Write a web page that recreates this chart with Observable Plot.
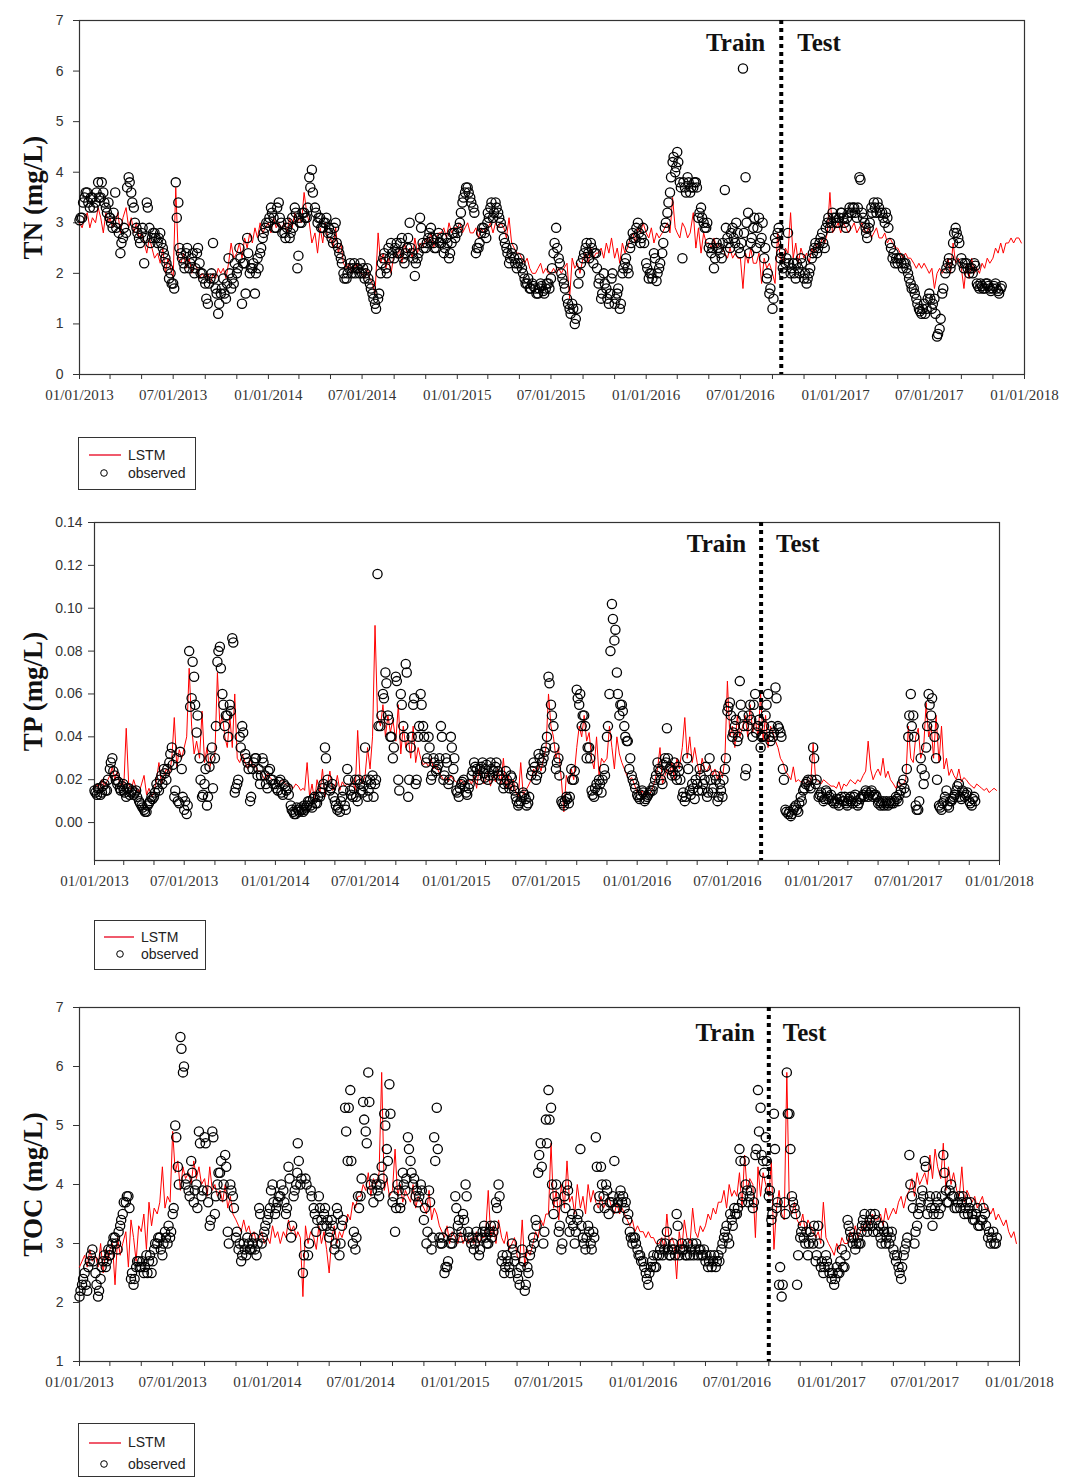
<!DOCTYPE html>
<html><head><meta charset="utf-8">
<script src="https://cdn.jsdelivr.net/npm/d3@7"></script>
<script src="https://cdn.jsdelivr.net/npm/@observablehq/plot@0.6"></script>
<style>
body{margin:0;background:#fff;}
#root{position:relative;width:1075px;height:1484px;background:#fff;overflow:hidden;}
.pane{position:absolute;left:0;}
[aria-label^="y-axis"] text{font-family:"Liberation Sans",Arial,sans-serif;font-size:14px;}
.legend{position:absolute;border:1px solid #333;background:#fff;box-sizing:border-box;}
.legend text{font-family:"Liberation Sans",Arial,sans-serif;font-size:14px;fill:#222;}
</style></head>
<body><div id="root"></div>
<script>
// sampling grid: readings on days 1,6,11,16,21,26 (series A) and 3,8,13,18,23,28 (observed series B), Jan 2013 - Dec 2017
const years = [2013, 2014, 2015, 2016, 2017];
const gridDays = [1, 6, 11, 16, 21, 26];
const gridDaysB = [3, 8, 13, 18, 23, 28];
const splitDates = ["2016-09-18", "2016-09-07", "2016-09-01"];
const yLabels = ["TN (mg/L)", "TP (mg/L)", "TOC (mg/L)"];
const tnTicks = [0, 1, 2, 3, 4, 5, 6, 7];
const tpTicks = [0, 0.02, 0.04, 0.06, 0.08, 0.10, 0.12, 0.14];
const tocTicks = [1, 2, 3, 4, 5, 6, 7];

const tnLSTM = [
3.0,2.9,3.1,3.2,2.9,3.1, 3.0,3.3,3.1,2.8,3.2,3.0, 3.1,2.9,3.0,3.2,2.8,3.1,
3.3,2.9,3.1,2.8,3.0,2.7, 2.8,2.6,2.4,2.7,2.5,2.3, 2.4,2.2,2.5,2.0,2.3,2.1,
1.9,3.7,2.3,2.2,2.4,2.1, 2.3,2.0,2.2,2.1,1.9,2.0, 1.9,2.0,1.8,2.0,1.9,2.1,
2.0,2.1,1.9,2.2,2.6,2.3, 2.4,2.6,2.3,2.7,2.5,2.8, 2.6,2.9,2.7,3.0,2.8,2.9,
3.0,2.8,3.1,2.9,3.0,2.9, 3.0,2.8,3.1,2.9,3.2,3.0, 3.1,3.0,3.6,3.2,3.0,2.6,
2.8,2.4,2.9,2.6,3.0,2.7, 2.7,2.5,2.9,2.4,2.6,2.2, 2.1,2.2,2.0,2.1,2.2,2.0,
2.0,1.9,2.1,1.9,1.8,1.6, 2.8,2.2,2.4,2.1,2.3,2.0, 2.4,2.3,2.5,2.2,2.6,2.4,
2.5,2.3,2.7,2.4,2.6,2.5, 2.7,2.6,2.8,2.5,2.7,2.8, 2.8,2.9,2.7,3.0,2.8,2.9,
2.9,3.0,2.8,2.9,3.0,2.8, 2.8,2.9,2.7,2.9,2.8,2.9, 2.9,3.0,2.8,3.0,2.9,3.0,
2.9,2.7,3.1,2.6,2.5,2.4, 2.4,2.3,2.2,2.3,2.1,2.0, 2.0,2.1,2.2,2.0,2.1,2.0,
2.0,2.1,2.0,2.1,2.0,2.1, 2.2,1.5,2.3,2.1,2.2,2.0, 2.3,2.4,2.2,2.5,2.3,2.4,
2.4,2.5,2.3,2.6,2.4,2.7, 2.3,2.5,2.2,2.6,2.4,2.5, 2.7,2.8,2.6,2.9,2.8,3.0,
2.8,2.7,2.9,2.6,2.8,2.7, 2.8,2.9,3.0,2.8,3.5,2.9, 2.8,2.7,3.0,2.9,2.7,2.8,
3.2,2.5,2.9,2.4,2.8,2.6, 2.6,2.5,2.7,2.5,2.6,2.5, 2.4,2.3,2.5,2.3,2.4,2.3,
2.3,1.7,2.4,2.2,2.5,2.2, 2.2,2.4,1.8,2.3,2.1,2.2, 2.0,1.8,2.8,2.3,2.2,2.5,
2.4,3.2,2.3,2.6,2.2,2.5, 2.3,2.4,2.2,2.5,2.4,2.6, 2.5,2.7,2.6,2.8,3.6,2.8,
2.9,3.0,2.8,3.0,2.9,2.8, 2.9,3.0,2.8,2.9,3.0,2.8, 2.8,2.9,2.7,2.8,2.9,2.7,
2.7,2.8,2.6,2.7,2.6,2.5, 2.5,2.4,2.3,2.4,2.3,2.3, 2.2,2.1,2.2,2.1,2.2,2.1,
2.0,2.1,1.7,2.0,2.1,2.0, 2.1,2.3,2.0,2.6,2.2,2.3, 2.1,1.7,2.2,1.9,2.3,2.0,
2.1,2.0,2.2,2.1,2.3,2.2, 2.3,2.5,2.4,2.6,2.4,2.6, 2.6,2.7,2.6,2.7,2.7,2.6
];
const tnObserved = [
3.05,3.1,3.5,3.6,3.3,3.5, 3.4,3.8,3.5,3.6,3.3,3.4, 3.1,2.9,3.6,3.0,2.4,2.7,
2.8,3.9,3.6,3.3,2.9,2.7, 2.8,2.2,3.4,2.9,2.7,2.8, 2.6,2.8,2.5,2.3,2.1,2.0,
1.8,3.8,3.4,2.4,2.2,2.4, 2.1,2.3,2.0,2.4,2.2,2.0, 1.8,1.4,1.9,2.6,1.7,1.2,
1.6,1.9,1.5,2.3,1.7,1.8, 2.0,2.5,1.4,2.2,2.7,2.0, 2.1,1.6,2.3,2.4,2.7,2.9,
3.0,3.3,3.1,2.9,3.4,3.0, 2.8,2.9,2.7,3.1,3.3,2.1, 3.1,3.0,3.2,3.1,3.9,4.05,
3.3,3.0,3.1,2.9,3.0,2.8, 2.8,2.6,3.0,2.5,2.3,2.0, 1.9,2.1,2.0,2.2,2.1,2.0,
2.0,1.9,2.1,1.8,1.6,1.4, 1.5,2.0,2.3,2.1,2.5,2.6, 2.3,2.6,2.4,2.7,2.2,2.5,
3.0,2.4,1.95,2.3,3.1,2.6, 2.5,2.7,2.9,2.6,2.5,2.8, 2.6,2.4,2.7,2.3,2.6,2.8,
2.8,3.0,3.4,3.6,3.7,3.5, 3.3,2.4,2.5,2.8,2.9,2.7, 3.2,3.3,3.1,3.4,3.2,3.0,
2.7,2.5,2.2,2.4,2.3,2.1, 2.3,2.1,1.9,1.8,1.7,1.8, 1.7,1.6,1.8,1.65,1.7,1.8,
1.9,2.4,2.9,2.3,2.0,1.8, 1.5,1.3,1.4,1.0,1.3,2.0, 2.3,2.5,2.4,2.6,2.2,2.4,
1.8,1.5,2.0,1.7,1.4,1.9, 1.4,1.6,1.3,2.0,2.2,2.1, 2.5,2.8,2.7,3.0,2.6,2.9,
2.2,1.9,2.0,2.4,1.85,2.1, 2.4,2.9,3.2,3.6,4.2,4.0, 4.4,3.8,2.3,3.7,3.9,3.6,
3.7,3.8,3.1,3.3,3.0,2.9, 2.5,2.4,2.1,2.6,2.5,2.3, 3.65,2.7,2.5,2.9,2.6,2.8,
2.4,6.05,3.9,3.2,2.6,2.9, 2.5,3.1,2.7,2.3,1.9,1.6, 1.3,2.7,2.8,2.3,2.1,2.2,
2.8,2.0,2.2,1.9,2.1,2.3, 1.9,1.8,2.0,2.3,2.5,2.4, 2.6,2.8,2.5,3.0,2.9,3.2,
3.1,3.0,3.2,3.1,2.9,3.2, 3.2,3.3,3.1,3.9,3.2,3.0, 2.8,2.9,3.3,3.4,3.2,3.3,
3.2,3.0,3.1,2.6,2.3,2.2, 2.2,2.3,2.1,2.2,2.0,1.8, 1.7,1.5,1.3,1.2,1.4,1.3,
1.6,1.3,1.5,0.75,0.9,1.6, 2.0,2.2,2.1,2.6,2.9,2.7, 2.3,2.1,2.2,2.0,2.1,2.2,
1.8,1.7,1.75,1.7,1.8,1.7, 1.7,1.8,1.65,1.7,null,null, null,null,null,null,null,null
];
const tnObservedB = [
3.1,3.4,3.6,3.4,3.5,3.3, 3.6,3.5,3.8,3.4,3.2,3.1, 3.0,3.2,2.9,2.8,2.6,2.9,
3.7,3.8,3.4,3.0,2.8,2.6, 2.9,2.7,3.3,2.6,2.8,2.7, 2.7,2.6,2.4,2.2,1.9,1.8,
1.7,3.1,2.5,2.3,2.1,2.5, 2.2,2.4,2.1,2.5,2.0,1.9, 1.5,1.8,2.0,1.9,1.6,1.4,
1.7,1.6,1.8,2.0,1.9,2.2, 2.1,2.3,2.2,1.6,2.4,2.1, 2.2,2.0,2.1,2.5,2.8,3.0,
3.1,3.2,2.9,3.3,3.1,2.8, 2.7,3.0,2.8,2.9,3.2,2.35, 3.0,3.2,3.1,3.3,3.7,3.6,
3.2,3.1,2.9,3.0,3.1,2.9, 2.7,2.9,2.6,2.4,2.2,1.9, 2.0,2.2,2.1,2.0,2.1,2.2,
2.1,2.0,1.9,1.7,1.5,1.3, 1.6,2.2,2.4,2.0,2.3,2.4, 2.5,2.4,2.6,2.3,2.4,2.7,
2.5,2.3,2.2,2.4,2.9,2.5, 2.6,2.8,2.7,2.5,2.7,2.6, 2.7,2.5,2.6,2.4,2.8,2.7,
2.9,3.2,3.5,3.7,3.6,3.4, 3.2,2.5,2.6,2.9,2.8,3.0, 3.1,3.4,3.2,3.3,3.1,2.9,
2.6,2.4,2.3,2.5,2.2,2.2, 2.2,2.0,1.8,1.9,1.7,1.75, 1.6,1.7,1.75,1.6,1.8,1.7,
2.1,2.6,2.5,2.2,1.9,1.7, 1.4,1.2,1.3,1.1,1.8,2.2, 2.4,2.6,2.3,2.5,2.4,2.1,
1.9,1.6,1.8,1.5,1.6,2.0, 1.5,1.7,1.4,2.1,2.3,2.0, 2.6,2.7,2.9,2.8,2.7,2.6,
2.1,2.0,1.9,2.3,2.0,2.2, 2.6,3.0,3.4,3.9,4.3,4.1, 4.2,3.7,3.8,3.6,3.8,3.7,
3.8,3.7,3.2,3.1,2.9,3.0, 2.6,2.5,2.3,2.5,2.4,2.6, 2.9,2.6,2.8,2.7,3.0,2.5,
2.6,2.8,3.0,2.4,2.7,3.1, 2.9,2.6,3.0,2.5,2.0,1.7, 1.5,2.6,2.9,2.4,2.0,2.3,
2.2,2.1,2.0,2.2,2.0,2.2, 2.0,1.9,2.1,2.4,2.6,2.5, 2.7,2.6,2.9,3.1,3.0,3.1,
3.0,3.1,3.2,3.0,3.1,3.3, 3.3,3.2,3.3,3.85,3.1,2.9, 2.7,3.0,3.2,3.3,3.4,3.2,
3.1,3.2,2.9,2.5,2.4,2.3, 2.3,2.2,2.2,2.1,1.9,1.7, 1.6,1.4,1.25,1.3,1.2,1.5,
1.5,1.4,1.2,0.8,1.1,1.7, 2.1,2.3,2.2,2.8,2.8,2.6, 2.2,2.2,2.1,2.1,2.0,2.15,
1.75,1.8,1.7,1.8,1.75,1.65, 1.75,1.7,1.6,1.75,null,null, null,null,null,null,null,null
];

const tpLSTM = [
0.016,0.018,0.015,0.02,0.017,0.019, 0.022,0.026,0.02,0.024,0.018,0.017, 0.016,0.044,0.018,0.015,0.02,0.016,
0.014,0.018,0.022,0.013,0.016,0.012, 0.014,0.02,0.028,0.018,0.022,0.025, 0.022,0.03,0.049,0.026,0.034,0.03,
0.035,0.04,0.072,0.045,0.032,0.038, 0.03,0.052,0.028,0.035,0.025,0.03, 0.032,0.07,0.045,0.05,0.04,0.035,
0.05,0.035,0.06,0.03,0.028,0.032, 0.028,0.025,0.03,0.026,0.027,0.024, 0.024,0.022,0.02,0.023,0.021,0.02,
0.02,0.018,0.019,0.02,0.018,0.017, 0.017,0.016,0.018,0.017,0.015,0.016, 0.015,0.028,0.012,0.018,0.01,0.02,
0.014,0.025,0.012,0.018,0.024,0.015, 0.016,0.022,0.015,0.019,0.017,0.018, 0.017,0.02,0.015,0.043,0.02,0.018,
0.022,0.035,0.025,0.04,0.092,0.05, 0.045,0.055,0.04,0.05,0.042,0.048, 0.038,0.055,0.032,0.045,0.035,0.04,
0.03,0.045,0.028,0.035,0.03,0.027, 0.028,0.026,0.03,0.025,0.027,0.024, 0.022,0.02,0.021,0.019,0.022,0.02,
0.019,0.018,0.02,0.018,0.019,0.02, 0.018,0.022,0.016,0.025,0.02,0.018, 0.02,0.024,0.017,0.022,0.019,0.025,
0.018,0.03,0.016,0.022,0.015,0.02, 0.014,0.012,0.028,0.013,0.015,0.017, 0.02,0.025,0.022,0.028,0.024,0.03,
0.035,0.06,0.045,0.04,0.03,0.035, 0.02,0.005,0.022,0.018,0.025,0.02, 0.035,0.045,0.04,0.05,0.038,0.042,
0.03,0.025,0.04,0.022,0.03,0.028, 0.03,0.045,0.035,0.025,0.04,0.032, 0.028,0.025,0.022,0.02,0.021,0.018,
0.014,0.013,0.015,0.012,0.014,0.013, 0.016,0.02,0.025,0.035,0.018,0.022, 0.025,0.022,0.028,0.02,0.03,0.025,
0.035,0.049,0.03,0.04,0.028,0.035, 0.028,0.022,0.03,0.025,0.024,0.027, 0.022,0.025,0.02,0.024,0.021,0.03,
0.066,0.04,0.045,0.035,0.05,0.04, 0.045,0.05,0.04,0.055,0.042,0.048, 0.04,0.06,0.038,0.05,0.035,0.045,
0.042,0.038,0.035,0.03,0.028,0.024, 0.022,0.02,0.026,0.019,0.02,0.019, 0.019,0.018,0.02,0.018,0.037,0.02,
0.019,0.018,0.02,0.019,0.018,0.017, 0.017,0.016,0.019,0.015,0.018,0.017, 0.018,0.02,0.019,0.018,0.02,0.019,
0.022,0.024,0.038,0.025,0.02,0.023, 0.025,0.022,0.03,0.021,0.024,0.02, 0.018,0.016,0.019,0.017,0.018,0.02,
0.045,0.03,0.028,0.04,0.044,0.03, 0.035,0.056,0.04,0.045,0.03,0.05, 0.028,0.045,0.025,0.03,0.022,0.025,
0.022,0.02,0.025,0.019,0.021,0.02, 0.018,0.017,0.016,0.018,0.017,0.016, 0.015,0.016,0.014,0.015,0.016,0.015
];
const tpObserved = [
0.015,0.013,0.016,0.014,0.018,0.015, 0.025,0.03,0.022,0.018,0.016,0.017, 0.015,0.012,0.016,0.014,0.013,0.015,
0.01,0.008,0.006,0.005,0.009,0.012, 0.012,0.018,0.015,0.022,0.025,0.02, 0.028,0.035,0.012,0.03,0.009,0.025,
0.006,0.004,0.08,0.058,0.068,0.042, 0.03,0.012,0.018,0.008,0.026,0.035, 0.03,0.075,0.082,0.06,0.045,0.05,
0.055,0.086,0.014,0.018,0.04,0.045, 0.032,0.028,0.01,0.025,0.03,0.022, 0.018,0.03,0.022,0.016,0.025,0.02,
0.018,0.015,0.02,0.013,0.017,0.016, 0.008,0.005,0.004,0.006,0.007,0.005, 0.006,0.008,0.01,0.007,0.012,0.009,
0.012,0.016,0.035,0.02,0.015,0.018, 0.01,0.006,0.005,0.012,0.008,0.025, 0.015,0.012,0.02,0.01,0.018,0.014,
0.035,0.012,0.02,0.022,0.018,0.116, 0.045,0.06,0.07,0.05,0.04,0.03, 0.068,0.02,0.06,0.045,0.074,0.012,
0.035,0.055,0.018,0.04,0.06,0.045, 0.028,0.04,0.02,0.03,0.024,0.027, 0.045,0.02,0.03,0.018,0.04,0.025,
0.015,0.012,0.018,0.02,0.014,0.016, 0.022,0.028,0.025,0.02,0.026,0.023, 0.025,0.02,0.028,0.022,0.026,0.024,
0.02,0.016,0.024,0.018,0.022,0.017, 0.012,0.008,0.01,0.014,0.011,0.009, 0.022,0.028,0.02,0.032,0.025,0.03,
0.035,0.068,0.055,0.045,0.025,0.03, 0.01,0.008,0.012,0.009,0.025,0.02, 0.062,0.055,0.045,0.05,0.03,0.035,
0.015,0.012,0.018,0.02,0.014,0.025, 0.04,0.06,0.102,0.085,0.07,0.05, 0.055,0.045,0.038,0.025,0.022,0.018,
0.013,0.011,0.015,0.01,0.012,0.014, 0.015,0.02,0.028,0.024,0.018,0.03, 0.044,0.025,0.022,0.028,0.02,0.024,
0.012,0.01,0.03,0.015,0.018,0.011, 0.018,0.025,0.015,0.02,0.012,0.03, 0.014,0.022,0.01,0.018,0.012,0.025,
0.052,0.056,0.04,0.045,0.038,0.066, 0.05,0.022,0.045,0.055,0.04,0.06, 0.045,0.035,0.04,0.05,0.06,0.038,
0.04,0.063,0.045,0.042,0.025,0.006, 0.004,0.003,0.006,0.008,0.005,0.012, 0.015,0.018,0.02,0.016,0.035,0.018,
0.012,0.014,0.01,0.015,0.011,0.013, 0.009,0.011,0.008,0.012,0.01,0.009, 0.01,0.012,0.009,0.013,0.008,0.011,
0.013,0.015,0.012,0.014,0.012,0.013, 0.009,0.008,0.01,0.009,0.008,0.01, 0.009,0.012,0.01,0.015,0.02,0.014,
0.04,0.06,0.05,0.008,0.006,0.03, 0.018,0.035,0.06,0.05,0.045,0.03, 0.008,0.006,0.01,0.015,0.007,0.01,
0.012,0.015,0.018,0.011,0.014,0.013, 0.01,0.008,0.012,null,null,null, null,null,null,null,null,null
];
const tpObservedB = [
0.014,0.016,0.013,0.017,0.015,0.02, 0.028,0.024,0.02,0.019,0.015,0.018, 0.014,0.016,0.013,0.015,0.014,0.012,
0.009,0.007,0.005,0.008,0.01,0.011, 0.014,0.016,0.02,0.018,0.023,0.025, 0.032,0.027,0.015,0.01,0.033,0.012,
0.01,0.008,0.054,0.075,0.055,0.05, 0.02,0.013,0.025,0.012,0.03,0.016, 0.045,0.08,0.072,0.055,0.05,0.04,
0.052,0.084,0.016,0.02,0.035,0.042, 0.03,0.025,0.012,0.028,0.03,0.025, 0.022,0.028,0.018,0.024,0.02,0.018,
0.016,0.019,0.014,0.018,0.015,0.013, 0.006,0.004,0.007,0.005,0.006,0.008, 0.007,0.01,0.008,0.011,0.009,0.012,
0.014,0.018,0.03,0.017,0.016,0.012, 0.008,0.007,0.01,0.015,0.006,0.02, 0.013,0.016,0.012,0.02,0.015,0.017,
0.02,0.015,0.018,0.012,0.02,0.045, 0.05,0.058,0.065,0.048,0.04,0.035, 0.066,0.015,0.055,0.04,0.07,0.02,
0.04,0.058,0.02,0.045,0.055,0.04, 0.03,0.035,0.022,0.028,0.025,0.03, 0.04,0.022,0.028,0.02,0.035,0.03,
0.014,0.016,0.019,0.017,0.013,0.018, 0.024,0.026,0.022,0.025,0.028,0.021, 0.027,0.022,0.025,0.024,0.028,0.022,
0.022,0.018,0.02,0.016,0.021,0.015, 0.01,0.009,0.012,0.013,0.008,0.012, 0.024,0.026,0.022,0.03,0.028,0.033,
0.04,0.065,0.05,0.035,0.028,0.022, 0.009,0.01,0.011,0.012,0.02,0.024, 0.058,0.06,0.05,0.045,0.035,0.03,
0.013,0.016,0.015,0.018,0.02,0.022, 0.045,0.08,0.095,0.09,0.06,0.055, 0.052,0.04,0.038,0.03,0.02,0.016,
0.012,0.013,0.014,0.011,0.013,0.015, 0.017,0.022,0.025,0.02,0.027,0.028, 0.03,0.026,0.024,0.022,0.026,0.02,
0.014,0.012,0.025,0.013,0.016,0.02, 0.015,0.022,0.018,0.026,0.014,0.02, 0.016,0.02,0.012,0.015,0.02,0.03,
0.054,0.05,0.042,0.048,0.04,0.055, 0.045,0.025,0.05,0.048,0.055,0.042, 0.048,0.04,0.045,0.055,0.04,0.045,
0.042,0.058,0.044,0.04,0.02,0.005, 0.005,0.004,0.007,0.006,0.009,0.01, 0.016,0.019,0.017,0.02,0.03,0.02,
0.013,0.012,0.011,0.014,0.012,0.01, 0.01,0.009,0.011,0.01,0.012,0.008, 0.011,0.01,0.012,0.01,0.009,0.012,
0.012,0.014,0.013,0.015,0.013,0.012, 0.01,0.009,0.008,0.01,0.009,0.009, 0.01,0.011,0.013,0.018,0.016,0.025,
0.05,0.045,0.04,0.006,0.01,0.025, 0.022,0.045,0.055,0.058,0.04,0.02, 0.007,0.009,0.012,0.008,0.01,0.011,
0.013,0.017,0.012,0.015,0.012,0.014, 0.009,0.011,0.01,null,null,null, null,null,null,null,null,null
];

const tocLSTM = [
2.6,2.7,2.8,2.6,2.9,2.7, 2.8,2.6,3.0,2.5,2.9,2.7, 2.9,3.0,2.3,3.1,2.8,3.0,
3.2,2.6,3.4,3.1,2.7,3.3, 3.2,3.5,2.9,3.7,3.3,3.6, 3.5,3.7,4.3,3.6,3.8,3.7,
4.9,4.2,4.4,3.9,4.3,4.1, 4.2,4.0,4.4,4.1,4.3,4.0, 4.1,3.8,4.3,3.9,4.0,3.8,
3.9,3.7,4.0,3.6,3.8,3.5, 3.4,3.3,3.2,3.4,3.2,3.3, 3.1,3.2,3.0,3.1,3.2,3.0,
3.1,3.0,3.3,3.1,3.2,3.0, 3.2,3.1,3.4,3.2,3.3,3.1, 3.2,3.1,2.1,3.3,3.0,3.2,
3.1,2.9,3.3,3.0,3.2,2.9, 2.5,3.1,3.3,3.0,3.2,3.1, 3.3,3.5,3.4,3.7,3.6,3.8,
3.8,4.0,3.9,4.2,3.8,4.1, 4.0,4.2,5.9,3.9,4.1,3.8, 3.9,4.6,3.8,4.0,3.7,3.9,
3.8,3.7,4.0,3.6,3.8,3.7, 3.6,3.5,3.9,3.4,3.6,3.5, 3.3,3.2,3.1,3.3,3.0,3.2,
3.1,3.0,3.2,3.0,3.1,3.0, 3.1,3.0,3.2,3.0,3.1,3.1, 3.2,3.9,3.1,3.3,3.0,3.4,
3.1,3.0,3.2,2.9,3.0,3.1, 2.8,2.7,3.4,2.6,2.9,2.8, 3.0,3.2,3.1,3.4,3.3,3.5,
3.5,4.7,3.6,3.9,3.4,4.0, 3.6,4.4,3.7,3.8,3.5,4.0, 3.6,3.8,3.5,4.0,3.7,3.9,
3.7,3.6,3.8,3.6,3.7,3.8, 3.6,3.5,3.7,3.5,3.6,3.5, 3.4,3.3,3.4,3.2,3.3,3.2,
3.2,3.1,3.2,3.1,3.1,3.0, 3.0,3.1,2.9,3.5,3.0,3.1, 3.0,2.4,3.2,2.9,3.4,3.1,
3.0,3.6,3.2,3.1,3.3,3.2, 3.3,3.5,3.4,3.6,3.5,3.7, 3.7,3.9,3.6,4.0,3.8,3.9,
3.8,4.2,3.6,4.5,3.9,4.1, 4.0,3.1,4.3,3.8,4.2,4.0, 3.8,4.4,2.9,3.6,3.9,3.5,
3.4,5.9,3.6,3.5,3.7,3.4, 3.3,3.5,3.2,3.4,3.3,3.2, 3.1,3.2,3.0,3.7,3.1,3.0,
2.9,2.8,3.0,2.9,3.1,3.0, 3.0,3.2,3.1,3.3,3.1,3.2, 3.3,3.2,3.4,3.3,3.5,3.4,
3.4,3.5,3.3,3.6,3.4,3.5, 3.6,3.5,3.7,3.8,3.6,3.8, 3.9,4.1,3.8,4.2,4.0,4.1,
4.2,4.0,4.5,4.1,4.6,4.3, 4.1,4.7,3.9,4.3,4.0,4.2, 3.9,3.8,4.3,3.7,3.9,3.8,
3.7,3.8,3.6,3.7,3.8,3.6, 3.6,3.5,3.6,3.4,3.5,3.4, 3.3,3.4,3.2,3.1,3.2,3.0
];
const tocObserved = [
2.1,2.3,2.5,2.2,2.7,2.9, 2.5,2.1,2.4,2.7,2.6,2.9, 2.8,3.0,3.1,2.9,3.3,3.5,
3.7,3.8,2.4,2.3,2.6,2.7, 2.6,2.5,2.8,2.7,2.5,2.9, 3.0,3.1,2.8,3.2,3.0,3.1,
3.5,5.0,4.3,6.5,5.9,4.0, 3.9,4.4,3.7,4.0,4.9,3.8, 4.8,3.9,3.3,4.9,3.5,4.0,
4.2,3.8,4.5,3.2,4.0,3.8, 3.1,2.9,2.7,3.0,2.8,3.0, 2.9,3.1,2.8,3.6,3.0,3.2,
3.4,3.6,4.0,3.5,3.7,3.8, 3.9,3.5,4.3,3.1,3.8,4.0, 4.7,4.0,2.5,4.1,2.8,3.9,
3.6,3.2,3.8,3.4,3.5,3.3, 3.1,3.4,2.9,3.6,2.8,3.3, 5.3,4.4,5.6,3.0,2.9,3.8,
3.8,5.4,4.9,5.9,4.0,3.7, 4.0,3.8,4.3,5.2,4.6,5.7, 3.7,3.2,4.0,3.6,4.2,3.9,
4.8,4.4,4.0,3.8,3.7,4.0, 3.4,3.0,3.9,2.9,4.8,5.3, 3.1,3.0,2.5,2.6,3.2,3.0,
3.8,3.3,3.1,3.5,4.0,3.2, 3.0,2.9,3.2,2.8,3.1,3.3, 3.1,3.0,3.3,3.2,3.7,4.0,
2.7,2.5,2.8,2.6,3.0,2.7, 2.5,2.3,2.9,2.2,2.6,2.8, 3.1,3.4,4.2,4.7,3.0,5.1,
5.6,5.3,3.5,4.0,3.2,2.9, 3.8,4.0,3.2,3.5,3.0,3.4, 4.6,3.1,2.9,3.3,3.0,3.2,
4.8,3.6,4.3,3.8,4.0,3.5, 3.7,4.4,3.6,3.8,3.7,3.6, 3.4,3.2,3.0,3.1,2.9,2.8,
2.7,2.5,2.3,2.6,2.8,2.6, 2.8,3.0,2.9,3.2,2.8,2.9, 2.9,3.5,2.8,3.0,2.9,2.8,
2.8,3.0,2.9,2.8,2.9,2.8, 2.7,2.6,2.8,2.7,2.6,2.8, 2.9,3.1,3.3,3.0,3.4,3.6,
3.5,4.6,3.7,4.4,3.9,3.8, 3.6,4.5,5.6,5.3,4.4,4.8, 3.8,3.4,5.2,3.6,2.3,2.1,
3.7,5.9,5.2,3.8,3.6,2.3, 3.1,3.3,3.0,2.8,3.2,3.0, 2.7,3.3,2.6,2.5,2.8,2.6,
2.4,2.3,2.6,2.5,2.9,2.6, 3.4,3.2,3.0,2.9,3.1,3.0, 3.3,3.5,3.2,3.4,3.3,3.5,
3.2,3.1,3.3,3.0,3.2,3.1, 2.9,2.7,2.6,2.4,2.8,3.0, 4.5,3.8,3.0,3.3,3.6,3.9,
4.4,3.5,3.8,3.3,3.6,3.7, 3.6,4.5,3.9,3.7,4.0,3.8, 3.6,3.8,3.7,3.5,3.7,3.6,
3.5,3.4,3.6,3.3,3.4,3.5, 3.1,3.0,3.2,3.0,null,null, null,null,null,null,null,null
];
const tocObservedB = [
2.2,2.4,2.3,2.6,2.8,2.7, 2.3,2.2,2.6,2.8,2.7,2.8, 2.9,3.1,3.0,3.2,3.4,3.7,
3.8,3.6,2.5,2.4,2.7,2.6, 2.7,2.6,2.5,2.8,2.7,3.0, 3.1,2.9,3.0,3.1,3.3,3.2,
3.6,4.8,4.0,6.3,6.0,4.1, 3.8,4.2,3.9,3.6,4.7,3.9, 4.7,3.7,3.4,4.8,3.8,4.2,
4.4,4.0,4.3,3.0,3.9,3.6, 3.2,3.0,2.8,2.9,3.1,2.9, 3.0,2.9,3.0,3.5,3.1,3.3,
3.5,3.9,3.7,3.6,3.8,4.0, 3.7,3.6,4.1,3.3,3.9,4.2, 4.4,4.1,2.8,4.0,3.0,3.8,
3.5,3.4,3.6,3.3,3.6,3.4, 3.2,3.3,3.0,3.5,3.0,3.4, 4.9,5.3,4.4,3.2,3.1,3.6,
4.1,5.1,4.7,5.4,3.9,4.1, 3.9,4.0,4.1,5.0,4.4,5.2, 3.8,3.6,3.9,3.7,4.0,4.1,
4.6,4.2,4.1,3.9,3.8,3.9, 3.6,3.2,3.7,3.1,4.4,4.6, 3.0,3.1,2.6,2.7,3.0,3.1,
3.6,3.4,3.2,3.4,3.8,3.1, 3.1,3.0,3.1,2.9,3.2,3.2, 3.0,3.2,3.1,3.3,3.6,3.8,
2.8,2.6,2.7,2.5,2.9,2.8, 2.4,2.6,2.7,2.3,2.5,2.9, 3.0,3.3,4.5,4.3,3.2,4.7,
5.1,4.0,3.8,3.7,3.3,3.0, 3.6,3.9,3.4,3.3,3.2,3.5, 3.3,3.0,3.1,3.2,2.9,3.1,
4.3,3.8,4.0,3.6,3.9,3.7, 3.8,3.6,3.7,3.9,3.8,3.7, 3.5,3.1,3.1,3.0,2.8,2.7,
2.6,2.4,2.5,2.7,2.6,2.8, 2.9,2.8,3.0,2.9,2.8,3.0, 2.8,3.3,2.9,2.9,2.8,3.0,
2.9,2.8,3.0,2.9,2.8,2.9, 2.8,2.7,2.6,2.8,2.7,2.7, 3.0,3.2,3.1,3.5,3.3,3.5,
3.6,4.4,3.8,4.0,3.7,3.9, 3.7,4.6,4.9,4.5,4.2,4.4, 3.9,3.5,4.6,3.7,2.6,2.3,
3.5,5.2,4.6,3.7,3.5,2.8, 3.2,3.1,3.2,3.0,3.1,3.3, 2.8,3.0,2.7,2.6,2.7,2.5,
2.5,2.4,2.5,2.7,2.6,2.8, 3.3,3.1,3.1,3.0,3.0,3.2, 3.4,3.3,3.3,3.5,3.2,3.4,
3.3,3.0,3.2,3.1,3.0,3.2, 2.8,2.8,2.5,2.6,2.9,3.1, 4.0,3.6,3.2,3.5,3.7,3.8,
4.3,3.7,3.6,3.5,3.8,3.5, 3.8,4.2,3.7,3.9,3.8,3.6, 3.7,3.6,3.8,3.6,3.5,3.7,
3.4,3.5,3.3,3.4,3.6,3.3, 3.2,3.1,3.0,3.1,null,null, null,null,null,null,null,null
];

const dates = [], datesB = [];
for (const y of years) for (let m = 0; m < 12; m++) {
  for (const d of gridDays) dates.push(new Date(Date.UTC(y, m, d)));
  for (const d of gridDaysB) datesB.push(new Date(Date.UTC(y, m, d)));
}

const x0 = new Date(Date.UTC(2013, 0, 1)), x1 = new Date(Date.UTC(2018, 0, 1));
const xTicks = d3.utcMonths(x0, new Date(Date.UTC(2018, 0, 2)), 2);
const fmtDate = d3.utcFormat("%m/%d/%Y");
const serif = '"Liberation Serif","Times New Roman",serif';

const panels = [
  {top: 0, height: 414, mt: 20, mb: 40, ml: 79, mr: 51, domain: [0, 7], ticks: tnTicks, fmt: d => String(d), pad: 10,
   lstm: tnLSTM, obs: tnObserved, obsB: tnObservedB, label: yLabels[0], split: splitDates[0], labelDx: -46, tDy: 22, tDx: 16,
   legend: {left: 78, top: 437, w: 118, h: 53, lx1: 10, lx2: 42, ly: 17, cx: 25, cy: 35, tx: 49, t1: 22, t2: 40}},
  {top: 500, height: 400, mt: 22, mb: 40, ml: 94, mr: 76, domain: [-0.0177, 0.14], ticks: tpTicks, fmt: d3.format(".2f"), pad: 6,
   lstm: tpLSTM, obs: tpObserved, obsB: tpObservedB, label: yLabels[1], split: splitDates[1], labelDx: -61, tDy: 21, tDx: 15,
   legend: {left: 94, top: 920, w: 112, h: 50, lx1: 9, lx2: 39, ly: 16, cx: 25, cy: 33, tx: 46, t1: 21, t2: 38}},
  {top: 990, height: 411, mt: 17, mb: 40, ml: 79, mr: 56, domain: [1, 7], ticks: tocTicks, fmt: d => String(d), pad: 10,
   lstm: tocLSTM, obs: tocObserved, obsB: tocObservedB, label: yLabels[2], split: splitDates[2], labelDx: -46, tDy: 25, tDx: 14,
   legend: {left: 78, top: 1423, w: 117, h: 54, lx1: 10, lx2: 42, ly: 19, cx: 25, cy: 40, tx: 49, t1: 23, t2: 45}}
];

const root = document.getElementById("root");
for (const p of panels) {
  const rows = dates.map((d, i) => ({date: d, lstm: p.lstm[i]}));
  const obsRows = dates.map((d, i) => ({date: d, obs: p.obs[i]}))
    .concat(datesB.map((d, i) => ({date: d, obs: p.obsB[i]})));
  const split = new Date(p.split + "T00:00:00Z");
  const svg = Plot.plot({
    width: 1075, height: p.height,
    marginTop: p.mt, marginBottom: p.mb, marginLeft: p.ml, marginRight: p.mr,
    style: {fontFamily: serif, fontSize: "15px", color: "#333", background: "transparent", overflow: "visible"},
    x: {type: "utc", domain: [x0, x1], ticks: xTicks, tickFormat: d => (d.getUTCMonth() % 6 === 0 ? fmtDate(d) : ""),
        tickSize: 5, tickPadding: 10, label: null},
    y: {domain: p.domain, ticks: p.ticks, tickFormat: p.fmt, tickSize: 6, tickPadding: p.pad, label: null},
    marks: [
      Plot.frame({stroke: "#333", strokeWidth: 1.2}),
      Plot.line(rows, {x: "date", y: "lstm", stroke: "#ff0000", strokeWidth: 1}),
      Plot.dot(obsRows, {x: "date", y: "obs", r: 4.6, stroke: "#000", fill: "none", strokeWidth: 1.3}),
      Plot.ruleX([split], {stroke: "#000", strokeWidth: 4, strokeDasharray: "4,4"}),
      Plot.text([split], {x: d => d, frameAnchor: "top", dy: p.tDy, dx: -p.tDx, text: () => "Train", textAnchor: "end",
        lineAnchor: "middle", fontSize: 25, fontWeight: "bold", fontFamily: serif, fill: "#111"}),
      Plot.text([split], {x: d => d, frameAnchor: "top", dy: p.tDy, dx: p.tDx, text: () => "Test", textAnchor: "start",
        lineAnchor: "middle", fontSize: 25, fontWeight: "bold", fontFamily: serif, fill: "#111"}),
      Plot.text([p.label], {frameAnchor: "left", dx: p.labelDx, rotate: -90, text: d => d, textAnchor: "middle",
        lineAnchor: "middle", fontSize: 27, fontWeight: "bold", fontFamily: serif, fill: "#111"})
    ]
  });
  const wrap = document.createElement("div");
  wrap.className = "pane";
  wrap.style.top = p.top + "px";
  wrap.appendChild(svg);
  root.appendChild(wrap);

  const L = p.legend;
  const lg = document.createElement("div");
  lg.className = "legend";
  lg.style.left = L.left + "px"; lg.style.top = L.top + "px";
  lg.style.width = L.w + "px"; lg.style.height = L.h + "px";
  lg.innerHTML = `<svg width="${L.w - 2}" height="${L.h - 2}" style="display:block">
    <line x1="${L.lx1}" x2="${L.lx2}" y1="${L.ly}" y2="${L.ly}" stroke="#e8001c" stroke-width="1.3"/>
    <circle cx="${L.cx}" cy="${L.cy}" r="3.3" fill="none" stroke="#000" stroke-width="1"/>
    <text x="${L.tx}" y="${L.t1}">LSTM</text>
    <text x="${L.tx}" y="${L.t2}">observed</text></svg>`;
  root.appendChild(lg);
}
</script>
</body></html>
